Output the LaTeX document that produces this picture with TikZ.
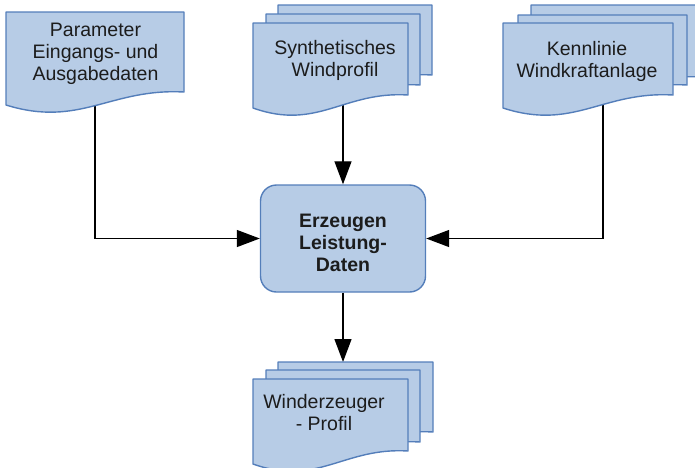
\documentclass[tikz,border=0pt]{standalone}
\usepackage{fontspec}
\setmainfont{Liberation Sans}
\usetikzlibrary{arrows.meta}

\definecolor{docfill}{RGB}{183,204,230}
\definecolor{docline}{RGB}{84,126,186}
\definecolor{txt}{RGB}{28,28,28}

\tikzset{
  sheet/.style={fill=docfill, draw=docline, line width=1.4pt, line join=round},
  label/.style={text=txt, align=center, inner sep=0pt,
                font=\fontsize{19.5}{22}\selectfont},
  procbox/.style={fill=docfill, draw=docline, line width=1.4pt,
                  rounded corners=16pt, minimum width=165pt, minimum height=107pt,
                  text=txt, align=center, inner sep=0pt,
                  font=\fontsize{19.5}{22}\selectfont\bfseries},
  flow/.style={draw=black, line width=1.3pt,
               -{Triangle[length=23pt,width=17pt]}},
}

% document sheet with a wavy lower edge: left x, top y, right x, lower-right y
\newcommand\docsheet[4]{%
  \pgfmathsetmacro\dcA{#1+0.585*(#3-#1)}%
  \pgfmathsetmacro\dcB{#1+0.416*(#3-#1)}%
  \path[sheet] (#1,#2) -- (#3,#2) -- (#3,#4)
    .. controls (\dcA,#4-4) and (\dcB,#4+36) .. (#1,#4+13) -- cycle;
}

\begin{document}
\begin{tikzpicture}[x=1pt,y=-1pt]
  \path[use as bounding box] (0,0) rectangle (695,467);

  % central process (the strut on the first line sets the text a little lower)
  \node[procbox] (box) at (343,238.5) {\rule{0pt}{22pt}Erzeugen\\Leistung-\\Daten};

  % connector start points inside the input documents
  \coordinate (parIn)  at (95,60);
  \coordinate (windIn) at (343,60);
  \coordinate (kennIn) at (603,60);
  \coordinate (outTop) at (343,362);

  \draw[flow] (parIn) |- (box.west);
  \draw[flow] (windIn) -- (box.north);
  \draw[flow] (kennIn) |- (box.east);
  \draw[flow] (box.south) -- (outTop);

  % single input document
  \docsheet{6}{12}{184}{92}
  \node[label] (param) at (95.5,54) {Parameter\\Eingangs- und\\Ausgabedaten};

  % stacked documents: synthetic wind profile
  \docsheet{278}{5}{432}{75}
  \docsheet{266}{14}{420}{85}
  \docsheet{253}{23}{408}{95}
  \node[label] (wind) at (335,60.5) {Synthetisches\\Windprofil};

  % stacked documents: turbine characteristic
  \docsheet{531}{5}{701}{77}
  \docsheet{518}{15}{687}{85}
  \docsheet{503}{23}{673}{95}
  \node[label] (kenn) at (587,61) {Kennlinie\\Windkraftanlage};

  % stacked documents: output profile
  \docsheet{278}{362}{433}{432}
  \docsheet{266}{370}{420}{442}
  \docsheet{253}{379}{408}{451}
  \node[label] (out) at (324,412.5) {Winderzeuger\\- Profil};
\end{tikzpicture}
\end{document}
